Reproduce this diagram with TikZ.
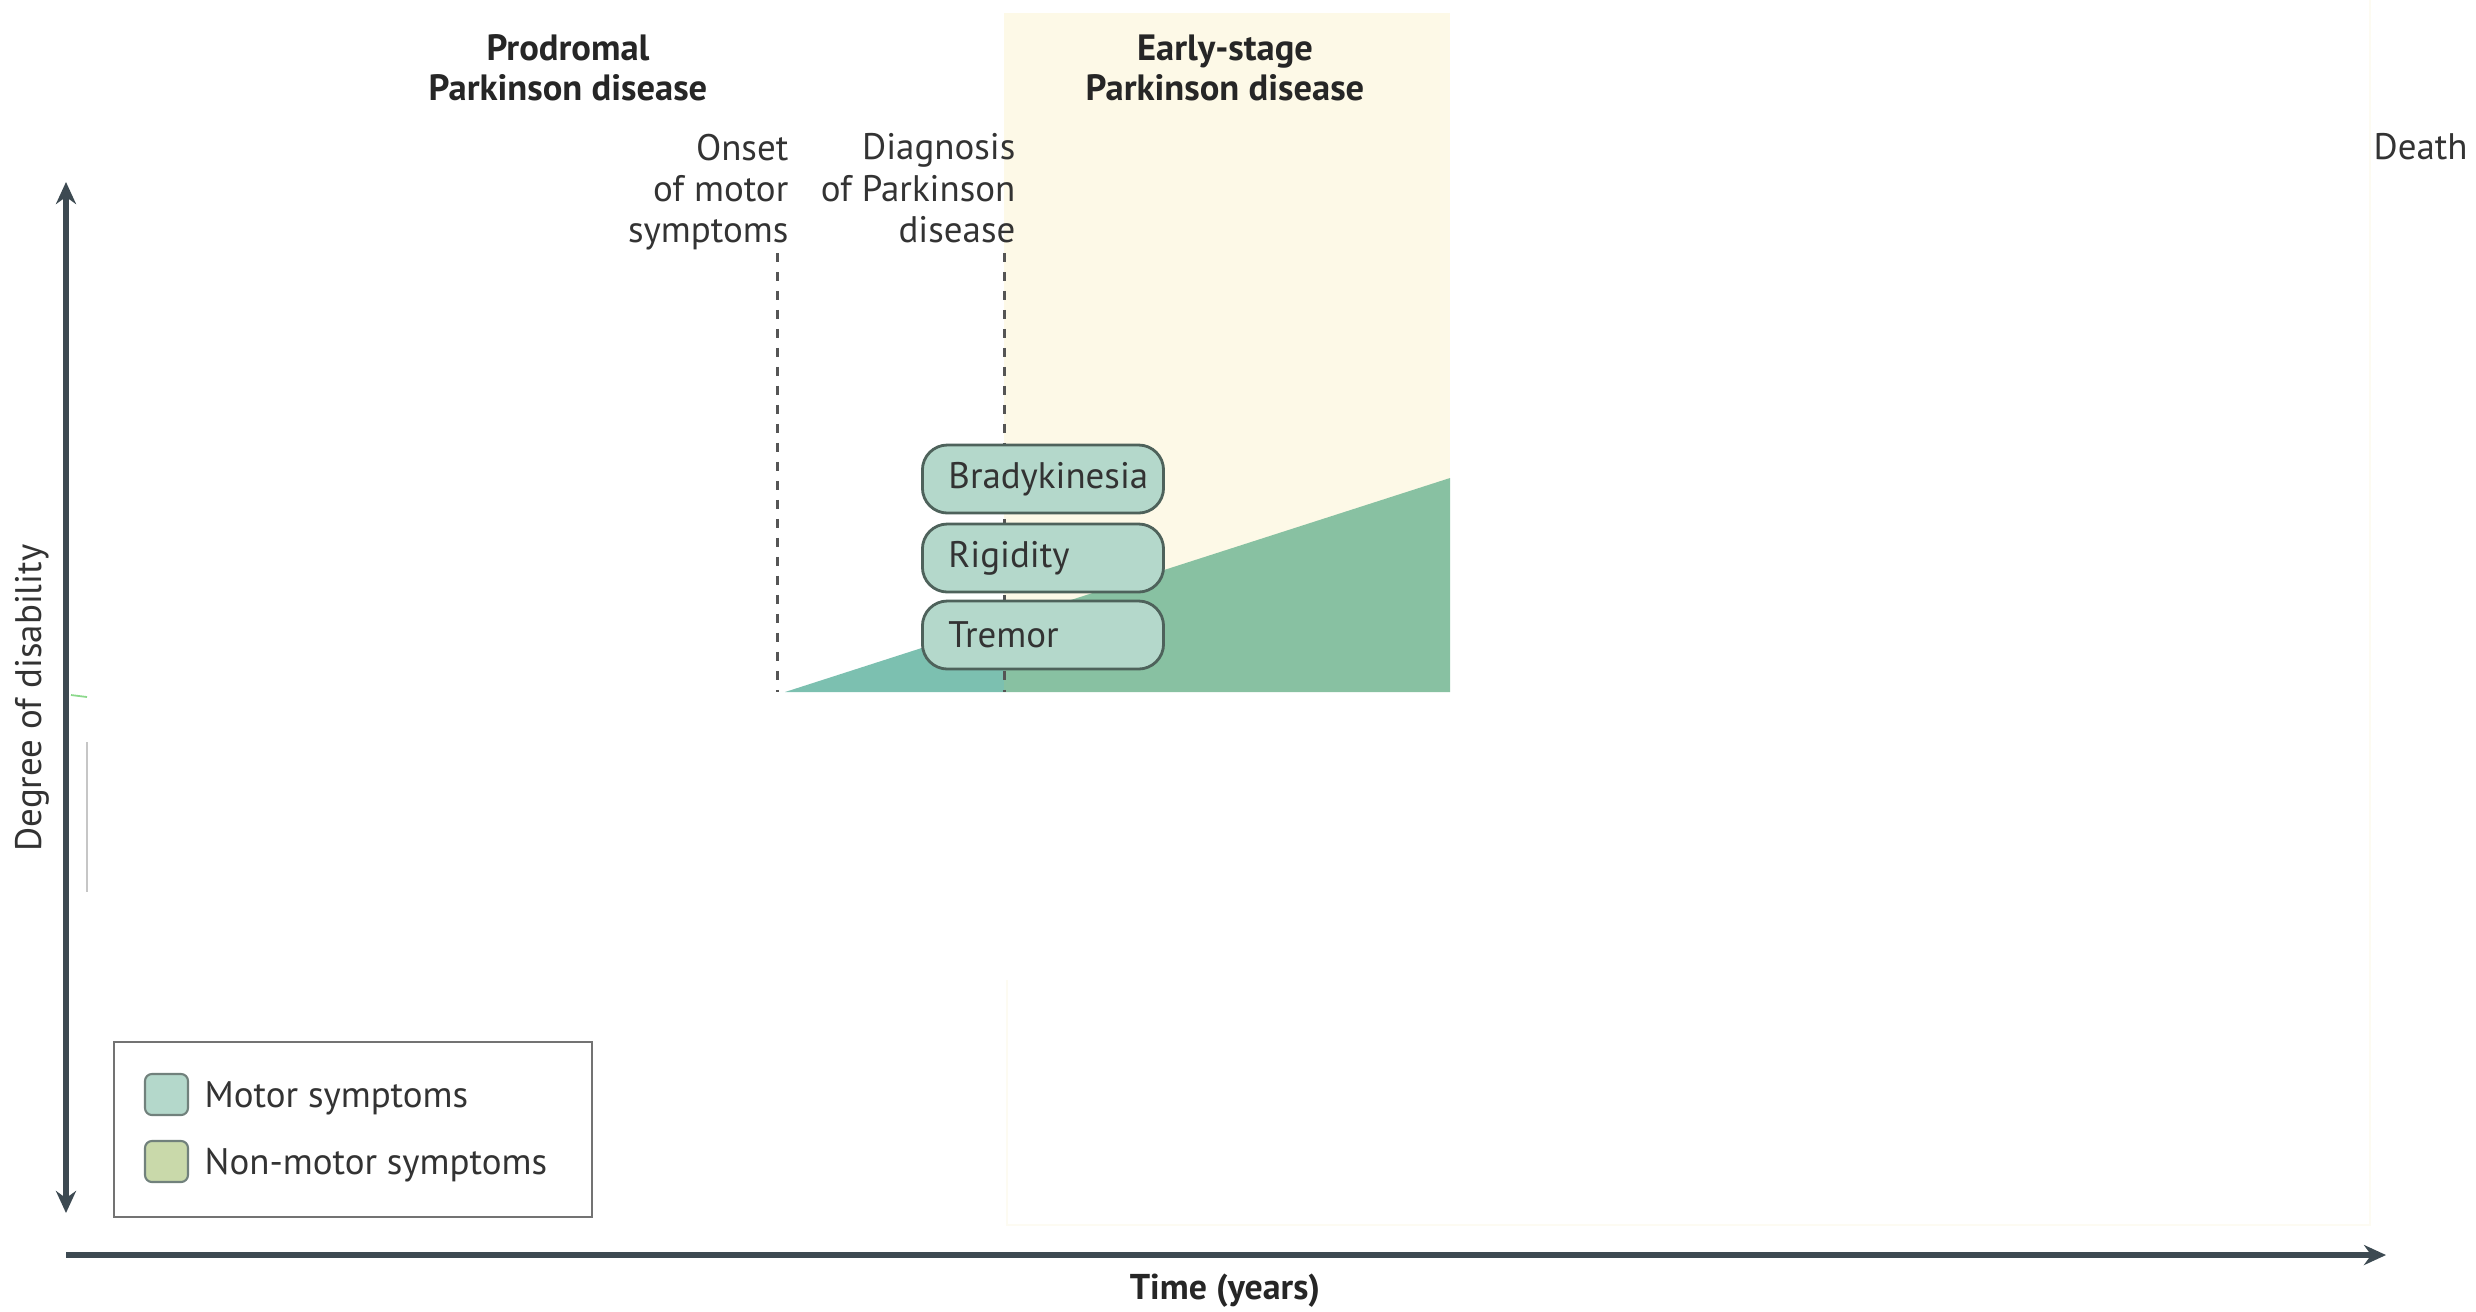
\documentclass[tikz,border=0pt]{standalone}
\usepackage{fontspec}
\setmainfont{PT Sans}
\usetikzlibrary{arrows.meta}
\definecolor{axiscol}{HTML}{3D4A52}
\definecolor{yellowbg}{HTML}{FDF9E7}
\definecolor{tealA}{HTML}{7CC0B0}
\definecolor{greenB}{HTML}{88C1A2}
\definecolor{boxfill}{HTML}{B4D8CB}
\definecolor{boxline}{HTML}{4E625B}
\definecolor{nonmotor}{HTML}{C9D9AA}
\definecolor{txt}{HTML}{333333}
\definecolor{dashcol}{HTML}{555555}
\definecolor{faint}{HTML}{FDFBF2}
\tikzset{
  axisline/.style={axiscol, line width=1.5pt},
  dashline/.style={dashcol, line width=0.85pt, dash pattern=on 2.6pt off 2.8pt},
  symbox/.style={draw=boxline, fill=boxfill, line width=0.8pt, rounded corners=0.25cm,
    minimum width=2.41cm, minimum height=0.68cm, text width=1.89cm, inner xsep=0.26cm,
    align=left, anchor=west, font=\fontsize{10.5}{12}\selectfont, text=txt},
  header/.style={align=center, font=\bfseries\fontsize{10.4}{11.3}\selectfont, text=black!85},
  evlabel/.style={align=right, anchor=north east, font=\fontsize{10.5}{11.7}\selectfont, text=txt, inner sep=0pt},
  swatch/.style={draw=boxline!80, line width=0.6pt, rounded corners=0.07cm, minimum width=0.43cm, minimum height=0.41cm, inner sep=0pt},
  legtext/.style={anchor=west, font=\fontsize{10.5}{12}\selectfont, text=txt, inner sep=0pt}
}
\begin{document}
\begin{tikzpicture}[x=0.01cm, y=-0.01cm]
\useasboundingbox[fill=white] (0,0) rectangle (2476,1311);
% faint remnants
\draw[faint, line width=0.8pt] (2370,0) -- (2370,1225) -- (1007,1225) -- (1007,980);
\draw[green!50!gray!60, line width=0.5pt] (71,695) -- (87,697);
\draw[gray!45, line width=0.6pt] (87,742) -- (87,892);
% early stage background
\fill[yellowbg] (1004,13) rectangle (1450,692);
% motor symptom wedge
\coordinate (w0) at (785,692);
\coordinate (wd) at (1004,621.5);
\coordinate (wdb) at (1004,692);
\coordinate (w1) at (1450,478);
\coordinate (w2) at (1450,692);
\fill[tealA] (w0) -- (wd) -- (wdb) -- cycle;
\fill[greenB] (wd) -- (w1) -- (w2) -- (wdb) -- cycle;
% event lines
\coordinate (onT) at (777,253);
\coordinate (onB) at (777,692);
\coordinate (dgT) at (1004,253);
\coordinate (dgB) at (1004,692);
\draw[dashline] (onT) -- (onB);
\draw[dashline] (dgT) -- (dgB);
% symptom boxes
\node[symbox] (brady) at (921,479) {Bradykinesia};
\node[symbox] (rigid) at (921,558) {Rigidity};
\node[symbox] (trem) at (921,635) {Tremor};
% headers
\node[header] (prod) at (568,68) {Prodromal\\Parkinson disease};
\node[header] (early) at (1225,68) {Early-stage\\Parkinson disease};
% event labels
\node[evlabel] (onset) at (789,133) {Onset\\of motor\\symptoms};
\node[evlabel] (diag) at (1016,133) {Diagnosis\\of Parkinson\\disease};
\node[anchor=north west, inner sep=0pt, font=\fontsize{10.5}{11.7}\selectfont, text=txt] (death) at (2373,133) {Death};
% axes
\coordinate (yT) at (66,182);
\coordinate (yB) at (66,1213);
\coordinate (xL) at (66,1255);
\coordinate (xR) at (2386,1255);
\draw[axisline, {Stealth[length=0.22cm,width=0.2cm]}-{Stealth[length=0.22cm,width=0.2cm]}] (yT) -- (yB);
\draw[axisline, -{Stealth[length=0.22cm,width=0.2cm]}] (xL) -- (xR);
\node[rotate=90, font=\fontsize{10.5}{12}\selectfont, text=txt] (ylab) at (32,698) {Degree of disability};
\node[font=\bfseries\fontsize{10.2}{12}\selectfont, text=black!85] (xlab) at (1225,1291) {Time (years)};
% legend
\node[draw=gray!90!black, line width=0.6pt, minimum width=4.78cm, minimum height=1.75cm, inner sep=0pt] (legend) at (353,1129.5) {};
\node[swatch, fill=boxfill] (sw1) at (166.5,1094.5) {};
\node[swatch, fill=nonmotor] (sw2) at (166.5,1161.5) {};
\node[legtext] (lt1) at (204,1098) {Motor symptoms};
\node[legtext] (lt2) at (204,1165) {Non-motor symptoms};
\end{tikzpicture}
\end{document}
